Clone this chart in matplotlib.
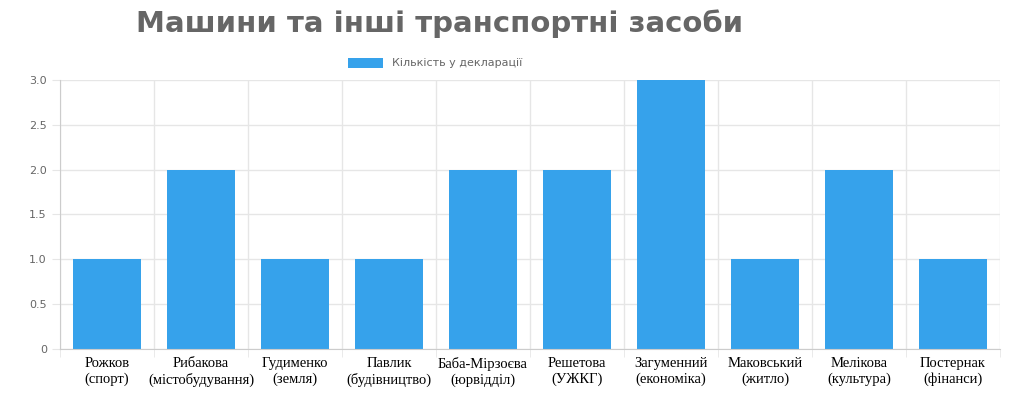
import matplotlib.pyplot as plt
import numpy as np

names = ['Рожков\n(спорт)', 'Рибакова\n(містобудування)', 'Гудименко\n(земля)',
         'Павлик\n(будівництво)', 'Баба-Мірзоєва\n(юрвідділ)', 'Решетова\n(УЖКГ)',
         'Загуменний\n(економіка)', 'Маковський\n(житло)', 'Мелікова\n(культура)',
         'Постернак\n(фінанси)']
counts = [1, 2, 1, 1, 2, 2, 3, 1, 2, 1]

fig = plt.figure(figsize=(10.1, 4.19), dpi=100)
ax = fig.add_axes([60 / 1010, 70 / 419, 940 / 1010, 269 / 419])
x = np.arange(len(names))
ax.bar(x, counts, width=0.72, color='#36A2EB', label='Кількість у декларації', zorder=2)
ax.set_xlim(-0.5, len(names) - 0.5)
ax.set_ylim(0, 3)
ax.set_yticks(np.arange(0, 3.01, 0.5))
ax.set_yticklabels(['0', '0.5', '1.0', '1.5', '2.0', '2.5', '3.0'], fontsize=8, color='#666666')
ax.set_xticks(x)
ax.set_xticklabels(names, fontsize=10.5, family='Liberation Serif', color='black')
ax.set_xticks(np.arange(-0.5, len(names), 1), minor=True)
ax.grid(True, which='minor', axis='x', color='#e6e6e6', lw=1, zorder=0)
ax.grid(True, which='major', axis='y', color='#e6e6e6', lw=1, zorder=0)
ax.tick_params(axis='x', which='major', length=0, pad=6)
ax.tick_params(axis='x', which='minor', length=6, color='#e6e6e6')
ax.tick_params(axis='y', length=6, color='#e6e6e6')
for s in ['top', 'right']:
    ax.spines[s].set_visible(False)
for s in ['left', 'bottom']:
    ax.spines[s].set_color('#cccccc')

fig.text(440 / 1010, 1 - 24 / 419, 'Машини та інші транспортні засоби', ha='center', va='center',
         fontsize=21, fontweight='bold', color='#666666')
fig.legend(loc='center', bbox_to_anchor=(435 / 1010, 1 - 63 / 419), frameon=False,
           fontsize=8, handlelength=3.2, handleheight=1.0, labelcolor='#666666')

fig.savefig('out.png', dpi=100)
